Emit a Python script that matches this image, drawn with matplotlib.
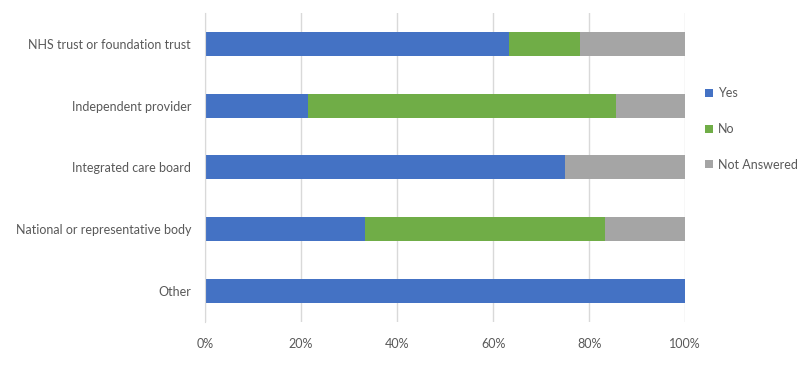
import numpy as np
import matplotlib
matplotlib.use("Agg")
from matplotlib import pyplot as plt
from matplotlib.ticker import PercentFormatter

categories = ["NHS trust or foundation trust", "Independent provider",
              "Integrated care board", "National or representative body", "Other"]
yes = [63.4, 21.4, 75.0, 33.3, 100.0]
no = [14.6, 64.3, 0.0, 50.0, 0.0]
not_answered = [22.0, 14.3, 25.0, 16.7, 0.0]

series = [("Yes", yes, "#4472C4"), ("No", no, "#70AD47"), ("Not Answered", not_answered, "#A5A5A5")]

plt.rcParams['font.family'] = ['Lato', 'DejaVu Sans']
text_col = "#595959"

fig = plt.figure(figsize=(8.07, 3.69), dpi=100)
ax = fig.add_axes([0.254, 0.128, 0.595, 0.837])

ypos = np.arange(len(categories))
left = np.zeros(len(categories))
for name, vals, col in series:
  ax.barh(ypos, vals, left=left, height=0.39, color=col, label=name, zorder=2)
  left += np.array(vals)

ax.set_ylim(len(categories) - 0.5, -0.5)
ax.set_xlim(0, 100)
ax.set_yticks(ypos)
ax.set_yticklabels(categories)
ax.set_xticks(np.arange(0, 101, 20))
ax.xaxis.set_major_formatter(PercentFormatter(decimals=0))

ax.grid(axis="x", color="#d9d9d9", linewidth=1, zorder=0)
for s in ["top", "right", "bottom"]:
  ax.spines[s].set_visible(False)
ax.spines["left"].set_color("#d9d9d9")
ax.tick_params(axis="both", length=0, colors=text_col, labelsize=9)
ax.tick_params(axis="x", pad=12)
ax.tick_params(axis="y", pad=10)

ax.legend(loc="center left", bbox_to_anchor=(1.0, 0.624), frameon=False,
          fontsize=9, labelcolor=text_col, handlelength=0.6, handleheight=0.6,
          handletextpad=0.4, labelspacing=1.9, borderaxespad=1.2)

fig.savefig("out.png", dpi=100)
